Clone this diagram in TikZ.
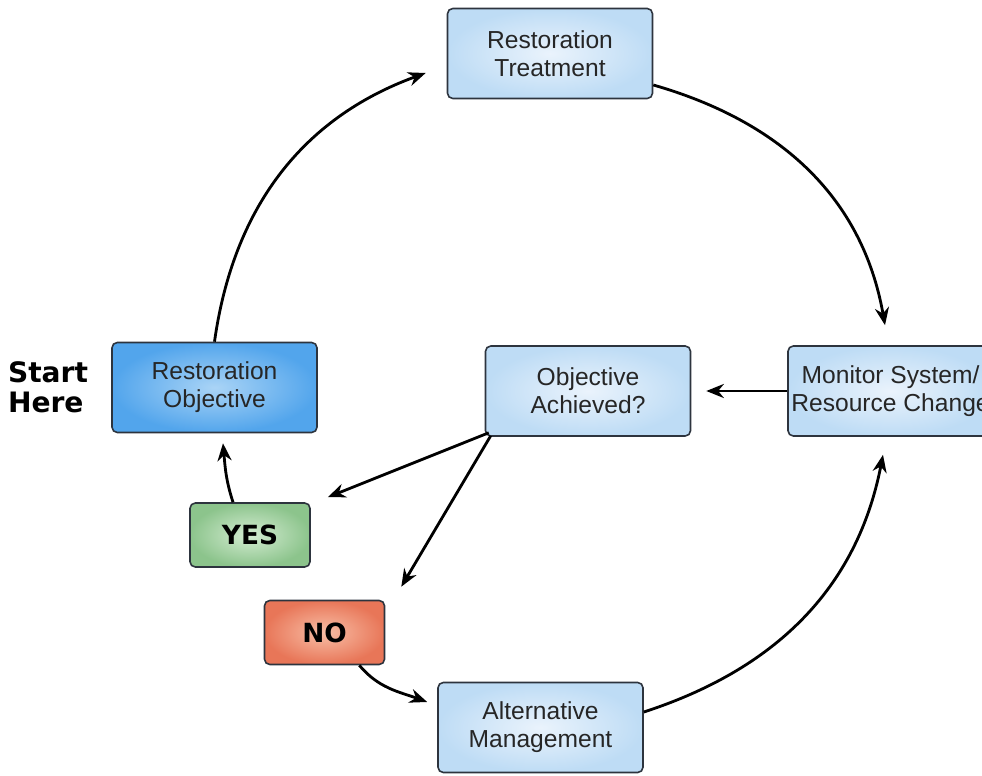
\documentclass[tikz,border=0pt]{standalone}
\usepackage{fontspec}
\setmainfont{Liberation Sans}
\newfontfamily\heavyfont{DejaVu Sans}
\usepackage{tikz}
\usetikzlibrary{shapes.geometric, arrows.meta, positioning}
\definecolor{stageout}{RGB}{190,220,245}
\definecolor{stagein}{RGB}{234,243,252}
\definecolor{startout}{RGB}{82,165,236}
\definecolor{startin}{RGB}{170,212,246}
\definecolor{yesout}{RGB}{140,196,140}
\definecolor{yesin}{RGB}{212,236,210}
\definecolor{noout}{RGB}{232,118,88}
\definecolor{noin}{RGB}{248,190,166}
\definecolor{edge}{RGB}{45,52,62}
\tikzstyle{stage} = [rectangle, rounded corners=3pt, minimum width=4.1cm, minimum height=1.8cm, inner sep=0pt, text centered, align=center, draw=edge, line width=0.9pt, inner color=stagein, outer color=stageout, font=\fontsize{14}{16}\selectfont, text=black!85]
\tikzstyle{answer} = [rectangle, rounded corners=3pt, minimum width=2.4cm, minimum height=1.28cm, inner sep=0pt, text centered, draw=edge, line width=0.9pt, font=\heavyfont\bfseries\fontsize{15}{18}\selectfont]
\tikzstyle{flow} = [line width=1.6pt,->,>={Stealth[length=10pt,width=8pt]}]

\begin{document}
\begin{tikzpicture}[x=1cm, y=1cm]
    \clip (0,0) rectangle (19.64,15.5);
    \node (treat) [stage] at (11.0,14.43) {Restoration\\Treatment};
    \node (obj) [stage, inner color=startin, outer color=startout] at (4.29,7.75) {Restoration\\Objective};
    \node (ach) [stage] at (11.76,7.68) {Objective\\Achieved?};
    \node (mon) [stage] at (17.81,7.68) {Monitor System/\\Resource Change};
    \node (yes) [answer, inner color=yesin, outer color=yesout] at (5.0,4.8) {YES};
    \node (no) [answer, inner color=noin, outer color=noout] at (6.49,2.85) {NO};
    \node (alt) [stage] at (10.81,0.95) {Alternative\\Management};
    \node (start) [align=left, font=\heavyfont\bfseries\fontsize{16}{17}\selectfont] at (0.96,7.76) {Start\\Here};

    \draw [flow] (obj.north) to[out=82, in=200] ([xshift=-0.42cm, yshift=-0.39cm]treat.west);
    \draw [flow] ([yshift=-0.63cm]treat.east) to[out=-16, in=100] ([xshift=-0.11cm, yshift=0.4cm]mon.north);
    \draw [flow] (mon.west) -- ([xshift=0.3cm]ach.east);
    \draw [flow] ([xshift=0.08cm, yshift=0.08cm]ach.south west) -- ([xshift=0.34cm, yshift=0.1cm]yes.north east);
    \draw [flow] ([xshift=0.12cm, yshift=0.02cm]ach.south west) -- ([xshift=0.32cm, yshift=0.26cm]no.north east);
    \draw [flow] ([xshift=-0.34cm]yes.north) to[out=108, in=-85] ([xshift=0.17cm, yshift=-0.2cm]obj.south);
    \draw [flow] ([xshift=-0.52cm]no.south east) to[out=-50, in=160] ([xshift=-0.2cm, yshift=0.51cm]alt.west);
    \draw [flow] ([yshift=0.31cm]alt.east) to[out=18, in=259] ([xshift=-0.15cm, yshift=-0.36cm]mon.south);
\end{tikzpicture}
\end{document}
